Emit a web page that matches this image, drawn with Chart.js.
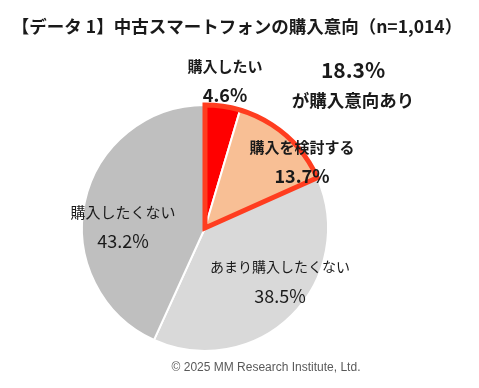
<!DOCTYPE html>
<html><head><meta charset="utf-8">
<script src="https://cdn.jsdelivr.net/npm/chart.js@4.4.1/dist/chart.umd.min.js"></script>
<style>html,body{margin:0;padding:0;background:#fff;}#wrap{width:479px;height:388px;position:relative;}</style>
</head><body><div id="wrap"><canvas id="c" width="479" height="388"></canvas></div>
<script>
const categories = ['購入したい', '購入を検討する', 'あまり購入したくない', '購入したくない'];
const values = [4.6, 13.7, 38.5, 43.2];
const valueLabels = ['4.6%', '13.7%', '38.5%', '43.2%'];
const intentTotal = '18.3%';
const intentCaption = 'が購入意向あり';
const title = '【データ 1】中古スマートフォンの購入意向（n=1,014）';
const footer = '© 2025 MM Research Institute, Ltd.';

const fills = ['#FF0000', '#F8BF95', '#D9D9D9', '#BFBFBF'];
const JP = '"Noto Sans CJK JP", "Noto Sans", sans-serif';
// label offsets relative to pie centre (dx, dy of first line), style
const labelPos = [
  {dx: 20, dy: -162, bold: true, size: 15},
  {dx: 97, dy: -81, bold: true, size: 15},
  {dx: 75, dy: 39, bold: false, size: 14},
  {dx: -82, dy: -16, bold: false, size: 15}
];

const overlay = {
  id: 'overlay',
  afterDatasetsDraw(chart) {
    const ctx = chart.ctx;
    const meta = chart.getDatasetMeta(0);
    const a0 = meta.data[0], a1 = meta.data[1];
    const cx = a0.x, cy = a0.y, r = a0.outerRadius;
    ctx.save();
    ctx.beginPath();
    ctx.moveTo(cx, cy);
    ctx.arc(cx, cy, r, a0.startAngle, a1.endAngle);
    ctx.closePath();
    ctx.lineWidth = 5;
    ctx.lineJoin = 'miter';
    ctx.strokeStyle = '#FF3D1F';
    ctx.stroke();
    ctx.restore();

    ctx.save();
    ctx.textAlign = 'center';
    ctx.textBaseline = 'middle';
    ctx.fillStyle = '#1a1a1a';
    categories.forEach((c, i) => {
      const p = labelPos[i];
      const w = p.bold ? 'bold ' : '';
      ctx.font = w + p.size + 'px ' + JP;
      ctx.fillText(c, cx + p.dx, cy + p.dy);
      ctx.font = w + '18px ' + JP;
      ctx.fillText(valueLabels[i], cx + p.dx, cy + p.dy + 29);
    });
    ctx.font = 'bold 21px ' + JP;
    ctx.fillText(intentTotal, cx + 148, cy - 158);
    ctx.font = 'bold 17.5px ' + JP;
    ctx.fillText(intentCaption, cx + 148, cy - 128);

    ctx.font = 'bold 17.5px ' + JP;
    ctx.fillStyle = '#1a1a1a';
    ctx.fillText(title, 237, 26);
    ctx.font = '12px "Liberation Sans", sans-serif';
    ctx.fillStyle = '#595959';
    ctx.fillText(footer, 266, 368);
    ctx.restore();
  }
};

new Chart(document.getElementById('c'), {
  type: 'pie',
  data: {
    labels: categories,
    datasets: [{
      data: values,
      backgroundColor: fills,
      borderColor: '#FFFFFF',
      borderWidth: 2
    }]
  },
  options: {
    responsive: false,
    animation: false,
    devicePixelRatio: 1,
    layout: {padding: {left: 81, right: 150, top: 103, bottom: 35}},
    plugins: {legend: {display: false}, tooltip: {enabled: false}, title: {display: false}}
  },
  plugins: [overlay]
});
</script></body></html>
